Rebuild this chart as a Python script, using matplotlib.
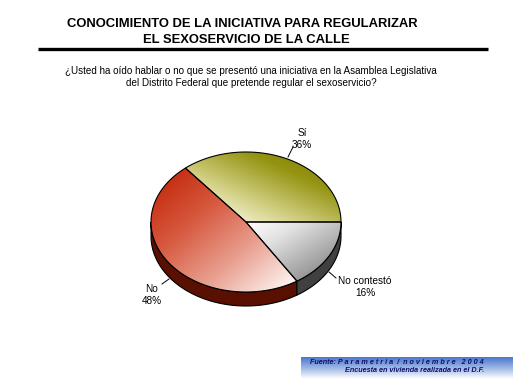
import numpy as np
import matplotlib
matplotlib.use("Agg")
from matplotlib import pyplot as plt
from matplotlib.patches import Polygon
from matplotlib.colors import LinearSegmentedColormap

# data
labels = ['Sí', 'No', 'No contestó']
values = [36, 48, 16]
title_lines = ['CONOCIMIENTO DE LA INICIATIVA PARA REGULARIZAR', 'EL SEXOSERVICIO DE LA CALLE']
question = ('¿Usted ha oído hablar o no que se presentó una iniciativa en la Asamblea Legislativa\n'
            'del Distrito Federal que pretende regular el sexoservicio?')
source_1 = 'Fuente: P a r a m e t r i a  /  n o v i e m b r e   2 0 0 4'
source_2 = 'Encuesta en vivienda realizada en el D.F.'

# look of each slice: gradient colours, gradient orientation, side colour
top_cmaps = [
    LinearSegmentedColormap.from_list('si', [(0, '#ffffff'), (0.12, '#f7f6e0'), (0.35, '#d5d38a'),
                                             (0.7, '#959412'), (1, '#7a7900')]),
    LinearSegmentedColormap.from_list('no', [(0, '#c01e00'), (0.35, '#d6583e'), (0.65, '#e89e8e'),
                                             (0.92, '#fbeae6'), (1, '#ffffff')]),
    LinearSegmentedColormap.from_list('nc', [(0, '#ffffff'), (0.3, '#e2e2e2'), (1, '#767676')]),
]
flip_v = [True, False, False]
side_colors = ['#6b6b00', '#5a1000', '#404040']

cx, cy, rx, ry, depth = 246, 222, 95, 70, 14

fig = plt.figure(figsize=(5.21, 3.91), dpi=100)
ax = fig.add_axes([0, 0, 1, 1])
ax.axis('off')


def arc(a0, a1, dy=0, n=120):
    t = np.radians(np.linspace(a0, a1, n))
    return np.column_stack([cx + rx * np.cos(t), cy - ry * np.sin(t) + dy])


bounds = np.concatenate([[0], np.cumsum(values)]) / sum(values) * 360

# side walls (front half only)
for i in range(len(values)):
    a0, a1 = max(bounds[i], 180), min(bounds[i + 1], 360)
    if a1 <= a0:
        continue
    top = arc(a0, a1)
    bot = arc(a0, a1, depth)[::-1]
    ax.add_patch(Polygon(np.vstack([top, bot]), closed=True, facecolor=side_colors[i],
                         edgecolor='black', lw=0.8, zorder=2))

# top faces with gradient
for i in range(len(values)):
    pts = np.vstack([[cx, cy], arc(bounds[i], bounds[i + 1])])
    x0, y0 = pts.min(axis=0)
    x1, y1 = pts.max(axis=0)
    X, Y = np.meshgrid(np.linspace(x0, x1, 200), np.linspace(y0, y1, 200))
    u = (X - x0) / (x1 - x0)
    v = (Y - y0) / (y1 - y0)
    if flip_v[i]:
        v = 1 - v
    t = (u + v) / 2
    poly = Polygon(pts, closed=True, facecolor='none', edgecolor='black', lw=0.8, zorder=4)
    ax.add_patch(poly)
    im = ax.imshow(top_cmaps[i](t), extent=(x0, x1, y1, y0), origin='upper', aspect='auto',
                   interpolation='bilinear', zorder=3)
    im.set_clip_path(poly)

# slice labels
lab_font = dict(family='Liberation Sans', fontsize=7.2, ha='center', va='center', linespacing=1.2)
ax.text(302, 139, f'{labels[0]}\n{values[0]}%', **lab_font)
ax.plot([288, 293], [157, 147], color='black', lw=0.7)
ax.text(365, 287, f'{labels[2]}\n{values[2]}%', **lab_font)
ax.plot([329, 336], [272, 278], color='black', lw=0.7)
ax.text(152, 295, f'{labels[1]}\n{values[1]}%', **lab_font)
ax.plot([162, 169], [284, 279], color='black', lw=0.7)

# titles
ax.text(242, 24, title_lines[0], family='Liberation Sans', fontweight='bold', fontsize=9.4,
        ha='center', va='center')
ax.text(246, 40, title_lines[1], family='Liberation Sans', fontweight='bold', fontsize=9.4,
        ha='center', va='center')
ax.plot([38, 488], [49, 49], color='black', lw=2.4, solid_capstyle='butt')
ax.text(251, 77, question, family='Liberation Sans', fontsize=7.1, ha='center', va='center',
        linespacing=1.2)

# source box
grad = np.linspace(0, 1, 50)[:, None]
box_cmap = LinearSegmentedColormap.from_list('box', ['#4a78cc', '#9fb7e6', '#ffffff'])
ax.imshow(box_cmap(np.repeat(grad, 10, axis=1)), extent=(301, 513, 379, 357), origin='upper',
          aspect='auto', interpolation='bilinear', zorder=1)
ax.text(310, 362, source_1, family='Liberation Sans', fontsize=5.2, style='italic',
        fontweight='bold', color='#10106a', ha='left', va='center')
ax.text(345, 371, source_2, family='Liberation Sans', fontsize=5.2, style='italic',
        fontweight='bold', color='#10106a', ha='left', va='center')

ax.set_xlim(0, 521)
ax.set_ylim(391, 0)

fig.savefig('out.png', dpi=100)
